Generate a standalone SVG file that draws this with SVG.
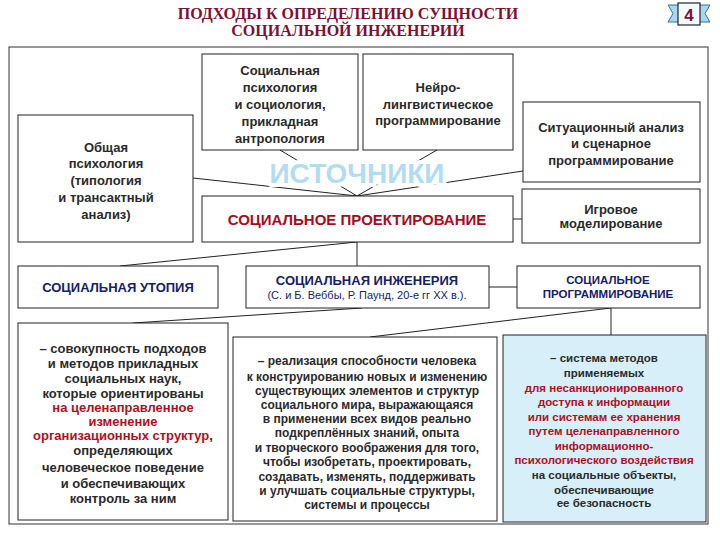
<svg xmlns="http://www.w3.org/2000/svg" width="720" height="540" viewBox="0 0 720 540">
<style>
.box{fill:#fff;stroke:#222;stroke-width:1}
.blue{fill:#d6eff9;stroke:#222;stroke-width:1}
.con{stroke:#222;stroke-width:1;fill:none}
text{font-family:"Liberation Sans",Arial,sans-serif;text-anchor:middle}
.t{font-size:13px;font-weight:bold;fill:#2a2a2a}
.s{font-size:11.5px;font-weight:bold;fill:#2a2a2a}
.m{font-size:12px;font-weight:bold;fill:#2a2a2a}
.r{fill:#b0101e}
.n{fill:#15206a}
.title{font-family:"Liberation Serif","Times New Roman",serif;font-size:16px;font-weight:bold;fill:#7a1232}
</style>
<rect width="720" height="540" fill="#fff"/>
<g id="title">
<text class="title" x="348" y="19">ПОДХОДЫ К ОПРЕДЕЛЕНИЮ СУЩНОСТИ</text>
<text class="title" x="348" y="36">СОЦИАЛЬНОЙ ИНЖЕНЕРИИ</text>
</g>
<g id="badge">
<polygon points="668,5 684,5 684,22 668,22 673,13.5" fill="#a8d8f0" stroke="#3a6f96" stroke-width="1"/>
<polygon points="710,5 694,5 694,22 710,22 705,13.5" fill="#a8d8f0" stroke="#3a6f96" stroke-width="1"/>
<rect x="678" y="3" width="22" height="22" fill="#f4fbff" stroke="#222" stroke-width="1.2"/>
<text x="689" y="21" style="font-size:17px;font-weight:bold;fill:#7a1232">4</text>
</g>
<rect id="frame" x="9" y="47" width="699" height="477" fill="none" stroke="#333" stroke-width="1"/>
<g id="connectors">
<line class="con" x1="280" y1="150" x2="357" y2="196"/>
<line class="con" x1="437" y1="150" x2="357" y2="196"/>
<line class="con" x1="193" y1="178" x2="357" y2="196"/>
<line class="con" x1="523" y1="171" x2="357" y2="196"/>
<line class="con" x1="513" y1="219" x2="522" y2="219"/>
<line class="con" x1="357" y1="242" x2="357" y2="266"/>
<line class="con" x1="357" y1="242" x2="120" y2="266"/>
<line class="con" x1="489" y1="287" x2="517" y2="287"/>
<line class="con" x1="362" y1="308" x2="133" y2="323"/>
<line class="con" x1="611" y1="308" x2="370" y2="337"/>
<line class="con" x1="611" y1="308" x2="611" y2="335"/>
</g>
<g id="sources-label">
<text x="357" y="183" textLength="175" lengthAdjust="spacingAndGlyphs" style="font-size:28px;font-weight:bold;fill:#b2dcf0;stroke:#fff;stroke-width:8;paint-order:stroke;stroke-linejoin:round">ИСТОЧНИКИ</text>
</g>
<g id="node-socpsych">
<rect class="box" x="202" y="54" width="156" height="96"/>
<text class="t" x="280" y="75">Социальная</text>
<text class="t" x="280" y="92">психология</text>
<text class="t" x="280" y="109">и социология,</text>
<text class="t" x="280" y="126">прикладная</text>
<text class="t" x="280" y="143">антропология</text>
</g>
<g id="node-nlp">
<rect class="box" x="363" y="54" width="150" height="96"/>
<text class="t" x="438" y="92">Нейро-</text>
<text class="t" x="438" y="109">лингвистическое</text>
<text class="t" x="438" y="125">программирование</text>
</g>
<g id="node-general">
<rect class="box" x="18" y="115" width="175" height="127"/>
<text class="t" x="106" y="152">Общая</text>
<text class="t" x="106" y="168">психология</text>
<text class="t" x="106" y="185">(типология</text>
<text class="t" x="106" y="202">и трансактный</text>
<text class="t" x="106" y="219">анализ)</text>
</g>
<g id="node-situation">
<rect class="box" x="523" y="102" width="177" height="80"/>
<text class="t" x="611" y="132">Ситуационный анализ</text>
<text class="t" x="611" y="148">и сценарное</text>
<text class="t" x="611" y="165">программирование</text>
</g>
<g id="node-design">
<rect class="box" x="202" y="196" width="311" height="46"/>
<text x="357" y="225" style="font-size:15px;font-weight:bold;fill:#a50d1e">СОЦИАЛЬНОЕ ПРОЕКТИРОВАНИЕ</text>
</g>
<g id="node-game">
<rect class="box" x="522" y="189" width="178" height="54"/>
<text class="t" x="611" y="214">Игровое</text>
<text class="t" x="611" y="228">моделирование</text>
</g>
<g id="node-utopia">
<rect class="box" x="18" y="266" width="200" height="42"/>
<text class="t n" x="118" y="292">СОЦИАЛЬНАЯ УТОПИЯ</text>
</g>
<g id="node-engineering">
<rect class="box" x="246" y="266" width="243" height="42"/>
<text class="t n" x="367" y="285">СОЦИАЛЬНАЯ ИНЖЕНЕРИЯ</text>
<text x="367" y="299" style="font-size:11px;fill:#15206a">(С. и Б. Веббы, Р. Паунд, 20-е гг XX в.).</text>
</g>
<g id="node-programming">
<rect class="box" x="517" y="266" width="183" height="42"/>
<text class="n" x="608" y="284" style="font-size:11.5px;font-weight:bold">СОЦИАЛЬНОЕ</text>
<text class="n" x="608" y="298" style="font-size:11.5px;font-weight:bold">ПРОГРАММИРОВАНИЕ</text>
</g>
<g id="node-utopia-desc">
<rect class="box" x="18" y="323" width="210" height="197"/>
<text class="t" x="123" y="353">– совокупность подходов</text>
<text class="t" x="123" y="368">и методов прикладных</text>
<text class="t" x="123" y="383">социальных наук,</text>
<text class="t" x="123" y="398">которые ориентированы</text>
<text class="t r" x="123" y="412">на целенаправленное</text>
<text class="t r" x="123" y="426">изменение</text>
<text class="t" x="123" y="440"><tspan class="r">организационных структур</tspan>,</text>
<text class="t" x="123" y="455">определяющих</text>
<text class="t" x="123" y="472">человеческое поведение</text>
<text class="t" x="123" y="488">и обеспечивающих</text>
<text class="t" x="123" y="503">контроль за ним</text>
</g>
<g id="node-engineering-desc">
<rect class="box" x="233" y="337" width="264" height="184"/>
<text class="m" x="367" y="365">– реализация способности человека</text>
<text class="m" x="367" y="381">к конструированию новых и изменению</text>
<text class="m" x="367" y="395">существующих элементов и структур</text>
<text class="m" x="367" y="409">социального мира, выражающаяся</text>
<text class="m" x="367" y="423">в применении всех видов реально</text>
<text class="m" x="367" y="437">подкреплённых знаний, опыта</text>
<text class="m" x="367" y="452">и творческого воображения для того,</text>
<text class="m" x="367" y="466">чтобы изобретать, проектировать,</text>
<text class="m" x="367" y="481">создавать, изменять, поддерживать</text>
<text class="m" x="367" y="495">и улучшать социальные структуры,</text>
<text class="m" x="367" y="509">системы и процессы</text>
</g>
<g id="node-programming-desc">
<rect class="blue" x="503" y="335" width="203" height="187"/>
<text class="s" x="604" y="362">– система методов</text>
<text class="s" x="604" y="377">применяемых</text>
<text class="s r" x="604" y="392">для несанкционированного</text>
<text class="s r" x="604" y="406">доступа к информации</text>
<text class="s r" x="604" y="421">или системам ее хранения</text>
<text class="s r" x="604" y="435">путем целенаправленного</text>
<text class="s r" x="604" y="450">информационно-</text>
<text class="s r" x="604" y="464">психологического воздействия</text>
<text class="s" x="604" y="479">на социальные объекты,</text>
<text class="s" x="604" y="494">обеспечивающие</text>
<text class="s" x="604" y="507">ее безопасность</text>
</g>
</svg>
